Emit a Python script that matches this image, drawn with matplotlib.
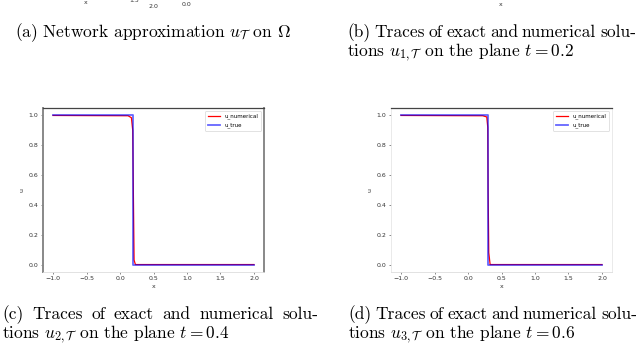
import matplotlib
matplotlib.use("Agg")
import matplotlib.pyplot as plt

plt.rcParams['mathtext.fontset'] = 'cm'

# ---- data ----
x_ticks = [-1.0, -0.5, 0.0, 0.5, 1.0, 1.5, 2.0]
y_ticks = [0.0, 0.2, 0.4, 0.6, 0.8, 1.0]

# plane t = 0.4 (panel c)
x_true_c = [-1.0, 0.2, 0.2, 2.0]
u_true_c = [1.0, 1.0, 0.0, 0.0]
x_num_c = [-1.0, 0.12, 0.17, 0.19, 0.20, 0.21, 0.23, 2.0]
u_num_c = [1.0, 0.998, 0.985, 0.90, 0.45, 0.03, 0.0, 0.0]

# plane t = 0.6 (panel d)
x_true_d = [-1.0, 0.3, 0.3, 2.0]
u_true_d = [1.0, 1.0, 0.0, 0.0]
x_num_d = [-1.0, 0.22, 0.28, 0.295, 0.30, 0.31, 0.33, 2.0]
u_num_d = [1.0, 0.998, 0.99, 0.92, 0.5, 0.08, 0.0, 0.0]

captions = {
    'a': ["(a) Network approximation $u_{\\mathcal{T}}$ on $\\Omega$"],
    'b': ["(b) Traces of exact and numerical solu-",
          "tions $u_{1,\\mathcal{T}}$ on the plane $t = 0.2$"],
    'c': ["(c) Traces of exact and numerical solu-",
          "tions $u_{2,\\mathcal{T}}$ on the plane $t = 0.4$"],
    'd': ["(d) Traces of exact and numerical solu-",
          "tions $u_{3,\\mathcal{T}}$ on the plane $t = 0.6$"],
}

W, H = 640, 345
fig = plt.figure(figsize=(W / 100, H / 100), dpi=100)


def px_axes(l, t, r, b):
    return fig.add_axes([l / W, 1 - b / H, (r - l) / W, (b - t) / H])


def panel(ax, xt, ut, xn, un, side_col, side_w):
    ax.plot(xn, un, color='red', lw=0.9, label='u_numerical')
    ax.plot(xt, ut, color='blue', lw=1.3, alpha=0.6, label='u_true')
    ax.set_xlim(-1.15, 2.15)
    ax.set_ylim(-0.05, 1.05)
    ax.set_xticks(x_ticks)
    ax.set_yticks(y_ticks)
    ax.tick_params(labelsize=4.5, length=1.6, width=0.4, pad=1.6,
                   colors='#333333')
    ax.set_xlabel('x', fontsize=4.5, labelpad=2, color='#333333')
    ax.set_ylabel('u', fontsize=4.5, labelpad=3, color='#333333')
    ax.spines['bottom'].set_color('#dddddd')
    ax.spines['bottom'].set_linewidth(0.6)
    ax.spines['top'].set_color('#444444')
    ax.spines['top'].set_linewidth(0.9)
    for s in ['left', 'right']:
        ax.spines[s].set_color(side_col)
        ax.spines[s].set_linewidth(side_w)
    leg = ax.legend(loc='upper right', fontsize=4.0, frameon=True,
                    handlelength=2.2, borderpad=0.5, labelspacing=0.6,
                    framealpha=1)
    leg.get_frame().set_linewidth(0.4)
    leg.get_frame().set_edgecolor('#cccccc')


ax_c = px_axes(43, 108, 264, 272)
panel(ax_c, x_true_c, u_true_c, x_num_c, u_num_c, '#888888', 1.4)
ax_d = px_axes(391, 108, 612, 272)
panel(ax_d, x_true_d, u_true_d, x_num_d, u_num_d, '#e6e6e6', 0.6)

# remnants of the upper panels' tick labels
frag_kw = dict(fontsize=4.5, color='#333333', ha='center', va='center')
fig.text(86 / W, 1 - 2 / H, 'x', **frag_kw)
fig.text(134 / W, 1 - 1 / H, '1.5', **frag_kw)
fig.text(153 / W, 1 - 7 / H, '2.0', **frag_kw)
fig.text(187 / W, 1 - 4 / H, '0.0', **frag_kw)
fig.text(501 / W, 1 - 5 / H, 'x', **frag_kw)

# captions
FS = 12.5
cap_kw = dict(fontsize=FS, family='cmr10', va='baseline', ha='left',
              color='black')
renderer = fig.canvas.get_renderer()


def justified(line, x0, x1, ybase):
    words = line.split(' ')
    widths = []
    for w in words:
        t = fig.text(0, 0, w, **cap_kw)
        widths.append(t.get_window_extent(renderer).width)
        t.remove()
    gap = (x1 - x0 - sum(widths)) / (len(words) - 1)
    x = x0
    for w, wd in zip(words, widths):
        fig.text(x / W, 1 - ybase / H, w, **cap_kw)
        x += wd + gap


def plain(line, x0, ybase):
    fig.text(x0 / W, 1 - ybase / H, line, **cap_kw)


LS = 19
plain(captions['a'][0], 15, 37)
justified(captions['b'][0], 347, 636, 37)
plain(captions['b'][1], 347, 37 + LS)
justified(captions['c'][0], 2, 318, 319)
plain(captions['c'][1], 2, 319 + LS)
justified(captions['d'][0], 348, 637, 319)
plain(captions['d'][1], 348, 319 + LS)

fig.savefig('out.png', dpi=100)
